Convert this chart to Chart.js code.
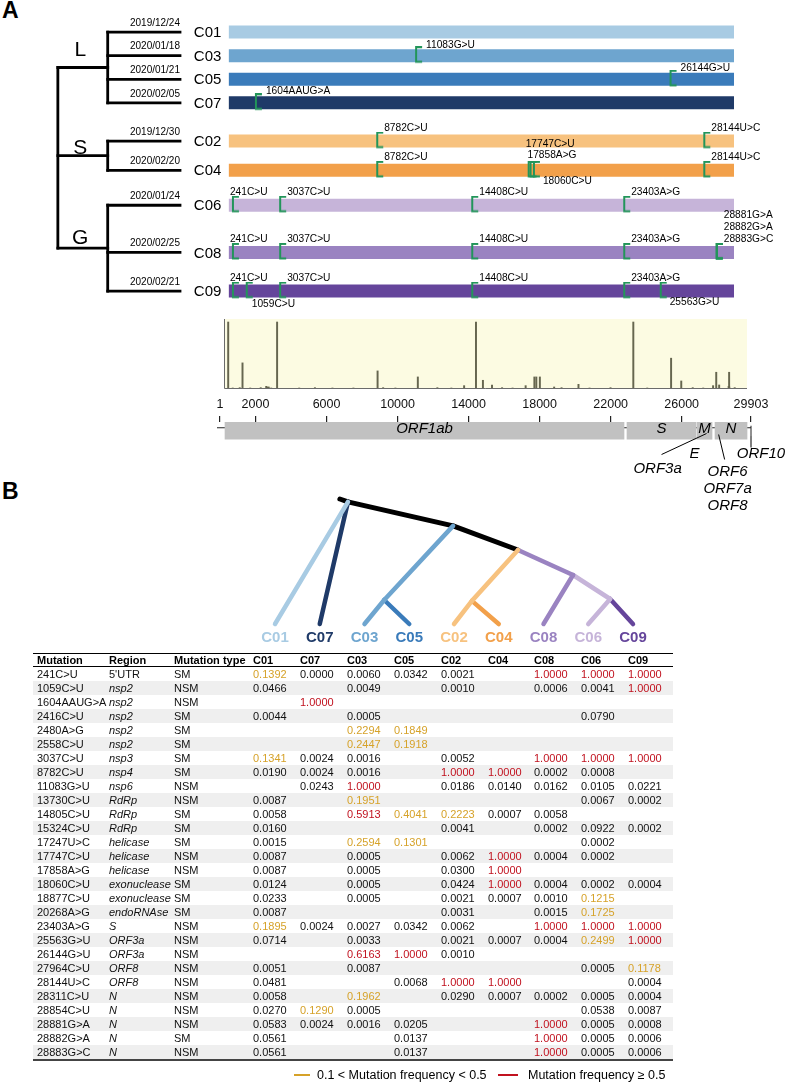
<!DOCTYPE html>
<html lang="en">
<head>
<meta charset="UTF-8">
<title>SARS-CoV-2 clades, mutations and frequencies</title>
<script src="https://cdn.jsdelivr.net/npm/chart.js@4.4.0/dist/chart.umd.min.js"></script>
<style>
  body { margin: 0; background: #fff; font-family: 'Liberation Sans', Arial, Helvetica, sans-serif; color: #000; }
  #page { position: relative; width: 786px; height: 1082px; overflow: hidden; }
  .box { position: absolute; }
  .panel { position: absolute; font-weight: bold; font-size: 23px; line-height: 23px; }
  #tbl { position: absolute; left: 33px; top: 653px; border-collapse: collapse; table-layout: fixed; width: 640px; font-size: 11px; }
  #tbl th, #tbl td { padding: 0 0 0 4px; text-align: left; white-space: nowrap; }
  #tbl th { height: 12px; line-height: 12px; font-weight: bold; border-top: 1.5px solid #000; border-bottom: 1.2px solid #000; }
  #tbl td { height: 14px; line-height: 14px; color: #111; }
  #tbl tbody tr:nth-child(even) td { background: #efefef; }
  #tbl tbody tr:last-child td { border-bottom: 2px solid #444; }
  .lgline { position: absolute; height: 2px; top: 1074px; }
  .lgtext { position: absolute; top: 1068px; font-size: 12.5px; line-height: 14px; }
</style>
</head>
<body>
<div id="page">
  <div class="panel" style="left:2px; top:-1px;">A</div>
  <div class="box" style="left:0; top:0; width:786px; height:318px;"><canvas id="chartA"></canvas></div>
  <div class="box" style="left:224px; top:319px; width:523px; height:70px;"><canvas id="chartFreq"></canvas></div>
  <div class="box" style="left:190px; top:393px; width:596px; height:121px;"><canvas id="chartGenes"></canvas></div>
  <div class="panel" style="left:2px; top:480px;">B</div>
  <div class="box" style="left:230px; top:480px; width:470px; height:182px;"><canvas id="chartB"></canvas></div>
  <table id="tbl"></table>
  <div class="lgline" style="left:294px; width:16px; background:#d6a229;"></div>
  <div class="lgtext" style="left:317px;">0.1 &lt; Mutation frequency &lt; 0.5</div>
  <div class="lgline" style="left:498px; width:20px; background:#c1121f;"></div>
  <div class="lgtext" style="left:528px;">Mutation frequency ≥ 0.5</div>
</div>

<script>
// ---------- data ----------
const genomeLength = 29903;

// panel A: clades in tree order, sampling dates, lineages
const cladeOrder = ['C01', 'C03', 'C05', 'C07', 'C02', 'C04', 'C06', 'C08', 'C09'];
const cladeDates = ['2019/12/24', '2020/01/18', '2020/01/21', '2020/02/05', '2019/12/30',
                    '2020/02/20', '2020/01/24', '2020/02/25', '2020/02/21'];
const lineages = ['L', 'S', 'G'];
const lineageMembers = [['C01', 'C03', 'C05', 'C07'], ['C02', 'C04'], ['C06', 'C08', 'C09']];

// fixed mutations marked on each clade genome
const barMutations = [
  ['C03', '11083G>U'], ['C05', '26144G>U'], ['C07', '1604AAUG>A'],
  ['C02', '8782C>U'], ['C02', '28144U>C'],
  ['C04', '8782C>U'], ['C04', '17747C>U'], ['C04', '17858A>G'], ['C04', '18060C>U'], ['C04', '28144U>C'],
  ['C06', '241C>U'], ['C06', '3037C>U'], ['C06', '14408C>U'], ['C06', '23403A>G'],
  ['C08', '241C>U'], ['C08', '3037C>U'], ['C08', '14408C>U'], ['C08', '23403A>G'],
  ['C08', '28881G>A'], ['C08', '28882G>A'], ['C08', '28883G>C'],
  ['C09', '241C>U'], ['C09', '1059C>U'], ['C09', '3037C>U'], ['C09', '14408C>U'], ['C09', '23403A>G'], ['C09', '25563G>U']
];

// mutation frequency track (relative height)
const spikePositions = [241, 1059, 3037, 8782, 11083, 14408, 14805, 17747, 17858, 18060, 20268,
                        23403, 25563, 26144, 28144, 28881,
                        2416, 2480, 2558, 13730, 15324, 17247, 18877, 27964, 28311, 28854, 28882, 28883,
                        500, 900, 1500, 2100, 2700, 4300, 5200, 6200, 7400, 9100, 9800, 12200, 13000,
                        15900, 16500, 19300, 20900, 22100, 24200, 26800, 27400, 29200];
const spikeHeights = [1.0, 0.39, 1.0, 0.27, 0.18, 1.0, 0.13, 0.18, 0.18, 0.18, 0.07,
                      1.0, 0.46, 0.12, 0.25, 0.25,
                      0.04, 0.03, 0.03, 0.05, 0.06, 0.05, 0.03, 0.05, 0.06, 0.04, 0.03, 0.03,
                      0.015, 0.02, 0.015, 0.02, 0.015, 0.015, 0.02, 0.015, 0.015, 0.02, 0.015, 0.02, 0.015,
                      0.02, 0.015, 0.02, 0.015, 0.02, 0.015, 0.02, 0.015, 0.02];

// genome map (positions as drawn against the axis)
const genomeTicks = [1, 2000, 6000, 10000, 14000, 18000, 22000, 26000, 29903];
const geneNames = ['ORF1ab', 'S', 'M', 'N'];
const geneStart = [283, 22920, 26863, 27877];
const geneEnd = [22752, 26806, 27708, 29679];

// panel B tree: tips left to right, nodes as [tip position, depth]
const tipOrderB = ['C01', 'C07', 'C03', 'C05', 'C02', 'C04', 'C08', 'C06', 'C09'];
const treeNodesB = {
  root: [1.45, 0], n1: [1.63, 0.023], n2: [3.98, 0.215], n3: [5.43, 0.408],
  n4: [6.66, 0.608], n5: [7.49, 0.80], n35: [2.44, 0.808], n24: [4.40, 0.815],
  C01: [0, 1], C07: [1, 1], C03: [2, 1], C05: [3, 1], C02: [4, 1],
  C04: [5, 1], C08: [6, 1], C06: [7, 1], C09: [8, 1]
};
const treeEdgesB = [
  ['root', 'n1', 'trunk'], ['n1', 'n2', 'trunk'], ['n2', 'n3', 'trunk'],
  ['n1', 'C01', 'C01'], ['n1', 'C07', 'C07'],
  ['n2', 'n35', 'C03'], ['n35', 'C03', 'C03'], ['n35', 'C05', 'C05'],
  ['n3', 'n24', 'C02'], ['n24', 'C02', 'C02'], ['n24', 'C04', 'C04'],
  ['n3', 'n4', 'C08'], ['n4', 'C08', 'C08'], ['n4', 'n5', 'C06'],
  ['n5', 'C06', 'C06'], ['n5', 'C09', 'C09']
];

// panel B table
const tableMutations = ['241C>U', '1059C>U', '1604AAUG>A', '2416C>U', '2480A>G', '2558C>U', '3037C>U',
  '8782C>U', '11083G>U', '13730C>U', '14805C>U', '15324C>U', '17247U>C', '17747C>U', '17858A>G',
  '18060C>U', '18877C>U', '20268A>G', '23403A>G', '25563G>U', '26144G>U', '27964C>U', '28144U>C',
  '28311C>U', '28854C>U', '28881G>A', '28882G>A', '28883G>C'];
const tableRegions = ["5'UTR", 'nsp2', 'nsp2', 'nsp2', 'nsp2', 'nsp2', 'nsp3', 'nsp4', 'nsp6', 'RdRp',
  'RdRp', 'RdRp', 'helicase', 'helicase', 'helicase', 'exonuclease', 'exonuclease', 'endoRNAse', 'S',
  'ORF3a', 'ORF3a', 'ORF8', 'ORF8', 'N', 'N', 'N', 'N', 'N'];
const tableTypes = ['SM', 'NSM', 'NSM', 'SM', 'SM', 'SM', 'SM', 'SM', 'NSM', 'NSM', 'SM', 'SM', 'SM',
  'NSM', 'NSM', 'SM', 'SM', 'SM', 'NSM', 'NSM', 'NSM', 'NSM', 'NSM', 'NSM', 'NSM', 'NSM', 'SM', 'NSM'];
const freqColumns = ['C01', 'C07', 'C03', 'C05', 'C02', 'C04', 'C08', 'C06', 'C09'];
const _ = null;
const freqC01 = [0.1392, 0.0466, _, 0.0044, _, _, 0.1341, 0.0190, _, 0.0087, 0.0058, 0.0160, 0.0015, 0.0087,
  0.0087, 0.0124, 0.0233, 0.0087, 0.1895, 0.0714, _, 0.0051, 0.0481, 0.0058, 0.0270, 0.0583, 0.0561, 0.0561];
const freqC07 = [0.0000, _, 1.0000, _, _, _, 0.0024, 0.0024, 0.0243, _, _, _, _, _,
  _, _, _, _, 0.0024, _, _, _, _, _, 0.1290, 0.0024, _, _];
const freqC03 = [0.0060, 0.0049, _, 0.0005, 0.2294, 0.2447, 0.0016, 0.0016, 1.0000, 0.1951, 0.5913, _, 0.2594, 0.0005,
  0.0005, 0.0005, 0.0005, _, 0.0027, 0.0033, 0.6163, 0.0087, _, 0.1962, 0.0005, 0.0016, _, _];
const freqC05 = [0.0342, _, _, _, 0.1849, 0.1918, _, _, _, _, 0.4041, _, 0.1301, _,
  _, _, _, _, 0.0342, _, 1.0000, _, 0.0068, _, _, 0.0205, 0.0137, 0.0137];
const freqC02 = [0.0021, 0.0010, _, _, _, _, 0.0052, 1.0000, 0.0186, _, 0.2223, 0.0041, _, 0.0062,
  0.0300, 0.0424, 0.0021, 0.0031, 0.0062, 0.0021, 0.0010, _, 1.0000, 0.0290, _, _, _, _];
const freqC04 = [_, _, _, _, _, _, _, 1.0000, 0.0140, _, 0.0007, _, _, 1.0000,
  1.0000, 1.0000, 0.0007, _, _, 0.0007, _, _, 1.0000, 0.0007, _, _, _, _];
const freqC08 = [1.0000, 0.0006, _, _, _, _, 1.0000, 0.0002, 0.0162, _, 0.0058, 0.0002, _, 0.0004,
  _, 0.0004, 0.0010, 0.0015, 1.0000, 0.0004, _, _, _, 0.0002, _, 1.0000, 1.0000, 1.0000];
const freqC06 = [1.0000, 0.0041, _, 0.0790, _, _, 1.0000, 0.0008, 0.0105, 0.0067, _, 0.0922, 0.0002, 0.0002,
  _, 0.0002, 0.1215, 0.1725, 1.0000, 0.2499, _, 0.0005, _, 0.0005, 0.0538, 0.0005, 0.0005, 0.0005];
const freqC09 = [1.0000, 1.0000, _, _, _, _, 1.0000, _, 0.0221, 0.0002, _, 0.0002, _, _,
  _, 0.0004, _, _, 1.0000, 1.0000, _, 0.1178, 0.0004, 0.0004, 0.0087, 0.0008, 0.0006, 0.0006];

// ---------- styles & layout ----------
const FONT = "'Liberation Sans', Arial, Helvetica, sans-serif";
const cladeColor = {
  C01: '#a8cbe3', C03: '#6ea5cf', C05: '#3a7bba', C07: '#1f3a68',
  C02: '#f7c27f', C04: '#f2a04a', C06: '#c6b4d9', C08: '#9a83c1', C09: '#65459b',
  trunk: '#000000'
};
const BRACKET_GREEN = '#22955a';
const GOLD = '#d6a229';
const RED = '#c1121f';

// vertical slot of each clade row in panel A (uneven gaps between lineages)
const rowSlot = [0, 1, 2, 3, 4.62, 5.86, 7.34, 9.34, 10.98];
const lineageLabelSlot = [0.75, 4.94, 8.74];
const tipDepth = 2.45;
// genome map: first category row holds the gene boxes, the rest leaves room for callouts
const geneRows = ['genome', '', '', '', '', '', '', ''];

// label offsets (px) relative to bracket, default is above-right
const labelNudge = {
  'C03 11083G>U': { dx: 10, dy: -11 }, 'C05 26144G>U': { dx: 10, dy: -11 }, 'C07 1604AAUG>A': { dx: 10, dy: -12 },
  'C06 241C>U': { dx: -3 }, 'C08 241C>U': { dx: -3 }, 'C09 241C>U': { dx: -3 },
  'C04 17747C>U': { dx: -3, dy: -26 }, 'C04 17858A>G': { dx: -3, dy: -15 }, 'C04 18060C>U': { dx: 9, dy: 11 },
  'C08 28881G>A': { dy: -37 }, 'C08 28882G>A': { dy: -25 },
  'C09 1059C>U': { dx: 5, dy: 13 }, 'C09 25563G>U': { dx: 9, dy: 11 }
};

// min/max so that value v0 lands on pixel px0 and v1 on px1 across a size-px wide area
function fitRange(px0, v0, px1, v1, size) {
  const k = (px1 - px0) / (v1 - v0);
  return { min: v0 - px0 / k, max: v0 + (size - px0) / k };
}
const slotOf = c => rowSlot[cladeOrder.indexOf(c)];
const nodeSlot = m => (slotOf(m[0]) + slotOf(m[m.length - 1])) / 2;

Chart.defaults.font.family = FONT;
Chart.defaults.color = '#000';
Chart.defaults.animation = false;
Chart.defaults.maintainAspectRatio = false;
Chart.defaults.plugins.legend.display = false;
Chart.defaults.plugins.tooltip.enabled = false;

// ---------- panel A: tree + clade genomes ----------
function makeBracket() {
  const c = document.createElement('canvas');
  c.width = 16; c.height = 19;
  const g = c.getContext('2d');
  g.strokeStyle = BRACKET_GREEN;
  g.lineWidth = 2;
  g.beginPath();
  g.moveTo(14, 1); g.lineTo(8, 1); g.lineTo(8, 15.5); g.lineTo(14, 15.5);
  g.stroke();
  return c;
}

const treeSegsA = [];
const lNodes = lineageMembers.map(nodeSlot);
treeSegsA.push([[0, lNodes[0]], [0, lNodes[2]]]);
lineageMembers.forEach((m, i) => {
  treeSegsA.push([[0, lNodes[i]], [1, lNodes[i]]]);
  treeSegsA.push([[1, slotOf(m[0])], [1, slotOf(m[m.length - 1])]]);
  m.forEach(c => treeSegsA.push([[1, slotOf(c)], [tipDepth, slotOf(c)]]));
});

const datasetsA = [];
datasetsA.push({
  data: barMutations.map(([c, l]) => ({ x: parseInt(l, 10), y: slotOf(c) })),
  xAxisID: 'xg', pointStyle: makeBracket(), pointRadius: 8, showLine: false, order: 0, clip: false
});
cladeOrder.forEach((c, i) => datasetsA.push({
  data: [{ x: 1, y: rowSlot[i] }, { x: genomeLength, y: rowSlot[i] }],
  xAxisID: 'xg', showLine: true, borderColor: cladeColor[c], borderWidth: 13,
  borderCapStyle: 'butt', pointRadius: 0, order: 1, clip: false
}));
treeSegsA.forEach(s => datasetsA.push({
  data: s.map(([x, y]) => ({ x, y })),
  xAxisID: 'xt', showLine: true, borderColor: '#000', borderWidth: 2.8,
  borderCapStyle: 'square', pointRadius: 0, order: 2, clip: false
}));

const textA = {
  id: 'textA',
  afterDatasetsDraw(chart) {
    const { ctx, scales: { xt, xg, y } } = chart;
    ctx.save();
    ctx.fillStyle = '#000';
    ctx.textBaseline = 'middle';
    ctx.textAlign = 'center';
    ctx.font = '21px ' + FONT;
    lineages.forEach((l, i) =>
      ctx.fillText(l, xt.getPixelForValue(0.45), y.getPixelForValue(lineageLabelSlot[i])));
    ctx.textAlign = 'right';
    ctx.font = '10px ' + FONT;
    cladeOrder.forEach((c, i) =>
      ctx.fillText(cladeDates[i], xt.getPixelForValue(tipDepth), y.getPixelForValue(rowSlot[i]) - 9));
    ctx.textAlign = 'left';
    ctx.font = '15px ' + FONT;
    cladeOrder.forEach((c, i) =>
      ctx.fillText(c, xg.getPixelForValue(1) - 35, y.getPixelForValue(rowSlot[i]) + 1));
    ctx.font = '10.2px ' + FONT;
    barMutations.forEach(([c, l]) => {
      const p = Object.assign({ dx: 7, dy: -13 }, labelNudge[c + ' ' + l] || {});
      ctx.fillText(l, xg.getPixelForValue(parseInt(l, 10)) + p.dx, y.getPixelForValue(slotOf(c)) + p.dy);
    });
    ctx.restore();
  }
};

new Chart(document.getElementById('chartA'), {
  type: 'scatter',
  data: { datasets: datasetsA },
  options: {
    layout: { padding: 0 },
    scales: {
      xt: Object.assign({ axis: 'x', type: 'linear', display: false }, fitRange(50, 0, 175, tipDepth, 786)),
      xg: Object.assign({ axis: 'x', type: 'linear', display: false }, fitRange(225, 1, 742, genomeLength, 786)),
      y: Object.assign({ type: 'linear', display: false, reverse: true }, fitRange(24.5, 0, 299, rowSlot[8], 318))
    }
  },
  plugins: [textA]
});

// ---------- panel A: frequency track ----------
const freqFrame = {
  id: 'freqFrame',
  beforeDatasetsDraw(chart) {
    const { ctx, chartArea: a } = chart;
    ctx.save();
    ctx.fillStyle = '#fcfbe2';
    ctx.fillRect(a.left, a.top, a.right - a.left, a.bottom - a.top);
    ctx.restore();
  },
  afterDatasetsDraw(chart) {
    const { ctx, chartArea: a } = chart;
    ctx.save();
    ctx.strokeStyle = '#6b6b6b';
    ctx.lineWidth = 1;
    ctx.beginPath();
    ctx.moveTo(a.left + 0.5, a.top); ctx.lineTo(a.left + 0.5, a.bottom - 0.5); ctx.lineTo(a.right, a.bottom - 0.5);
    ctx.stroke();
    ctx.restore();
  }
};

new Chart(document.getElementById('chartFreq'), {
  type: 'bar',
  data: {
    datasets: [{
      data: spikePositions.map((p, i) => ({ x: p, y: spikeHeights[i] })),
      backgroundColor: '#66664f', barThickness: 1.3
    }]
  },
  options: {
    layout: { padding: 0 },
    scales: {
      x: { type: 'linear', display: false, min: 1, max: genomeLength, offset: false },
      y: { type: 'linear', display: false, min: 0, max: 1.045 }
    }
  },
  plugins: [freqFrame]
});

// ---------- panel A: genome map ----------
function geneRowBox(chart) {
  const a = chart.chartArea;
  const h = (a.bottom - a.top) / geneRows.length;
  return { top: a.top, bot: a.top + h, mid: a.top + h / 2 };
}
const geneLabels = {
  id: 'geneLabels',
  beforeDatasetsDraw(chart) {
    const { ctx, scales: { x } } = chart;
    const { mid } = geneRowBox(chart);
    ctx.save();
    ctx.strokeStyle = '#222';
    ctx.lineWidth = 1;
    ctx.beginPath();
    ctx.moveTo(x.getPixelForValue(1) - 3, mid); ctx.lineTo(x.getPixelForValue(genomeLength), mid);
    ctx.moveTo(x.getPixelForValue(genomeLength), mid - 2); ctx.lineTo(x.getPixelForValue(genomeLength), mid + 9);
    ctx.stroke();
    ctx.restore();
  },
  afterDatasetsDraw(chart) {
    const { ctx, scales: { x } } = chart;
    const { mid, bot } = geneRowBox(chart);
    ctx.save();
    ctx.fillStyle = '#000';
    ctx.strokeStyle = '#000';
    ctx.lineWidth = 1;
    ctx.font = 'italic 15px ' + FONT;
    ctx.textAlign = 'center';
    ctx.textBaseline = 'middle';
    geneNames.forEach((g, i) =>
      ctx.fillText(g, (x.getPixelForValue(geneStart[i]) + x.getPixelForValue(geneEnd[i])) / 2, mid + 1));
    // callouts for the small genes
    const a3 = x.getPixelForValue(27400), a6 = x.getPixelForValue(28080), a10 = x.getPixelForValue(genomeLength);
    ctx.beginPath();
    ctx.moveTo(a3, bot); ctx.lineTo(a3 - 45, bot + 21);
    ctx.moveTo(a6, bot + 1); ctx.lineTo(a6 + 6, bot + 26);
    ctx.moveTo(a10, bot + 3); ctx.lineTo(a10, bot + 14);
    ctx.stroke();
    ctx.fillText('ORF3a', a3 - 49, bot + 35);
    ctx.fillText('E', a3 - 12, bot + 20);
    ['ORF6', 'ORF7a', 'ORF8'].forEach((t, i) => ctx.fillText(t, a6 + 9, bot + 38 + 17 * i));
    ctx.fillText('ORF10', a10 + 10, bot + 20);
    ctx.restore();
  }
};

new Chart(document.getElementById('chartGenes'), {
  type: 'bar',
  data: {
    labels: geneRows,
    datasets: [{
      data: geneNames.map((g, i) => ({ x: [geneStart[i], geneEnd[i]], y: 'genome' })),
      backgroundColor: '#c1c1c1', barPercentage: 1, categoryPercentage: 1
    }]
  },
  options: {
    indexAxis: 'y',
    layout: { padding: { left: 30, right: 35, top: 0, bottom: 0 } },
    scales: {
      x: {
        type: 'linear', position: 'top', min: 1, max: genomeLength,
        afterBuildTicks: s => { s.ticks = genomeTicks.map(v => ({ value: v })); },
        ticks: { font: { size: 12.5 }, color: '#111', padding: 4, autoSkip: false, maxRotation: 0,
                 callback: v => String(v) },
        grid: { drawOnChartArea: false, tickLength: 6, color: '#222', lineWidth: 1.2 },
        border: { display: false }
      },
      y: { type: 'category', display: false }
    }
  },
  plugins: [geneLabels]
});

// ---------- panel B: tree ----------
const datasetsB = treeEdgesB.map(([p, c, col]) => ({
  data: [treeNodesB[p], treeNodesB[c]].map(([x, y]) => ({ x, y })),
  showLine: true, borderColor: cladeColor[col], borderWidth: col === 'trunk' ? 5 : 4.5,
  borderCapStyle: 'round', pointRadius: 0, clip: false, order: col === 'trunk' ? 1 : 0
}));

new Chart(document.getElementById('chartB'), {
  type: 'scatter',
  data: { datasets: datasetsB },
  options: {
    layout: { padding: { top: 19, bottom: 10, left: 0, right: 0 } },
    scales: {
      x: Object.assign({
        type: 'linear',
        afterBuildTicks: s => { s.ticks = tipOrderB.map((t, i) => ({ value: i })); },
        ticks: {
          autoSkip: false, maxRotation: 0, padding: 5,
          font: { size: 15, weight: 'bold' },
          color: ctx => cladeColor[tipOrderB[ctx.tick.value]],
          callback: v => tipOrderB[v]
        },
        grid: { display: false, drawTicks: false }, border: { display: false }
      }, fitRange(45, 0, 403, 8, 470)),
      y: { type: 'linear', display: false, reverse: true, min: 0, max: 1 }
    }
  }
});

// ---------- panel B: table ----------
const freqByClade = { C01: freqC01, C07: freqC07, C03: freqC03, C05: freqC05, C02: freqC02,
                      C04: freqC04, C08: freqC08, C06: freqC06, C09: freqC09 };
const colWidths = [72, 65, 79, 47, 47, 47, 47, 47, 46, 47, 47, 49];
function freqColor(v) { return v >= 0.5 ? RED : (v > 0.1 ? GOLD : '#111'); }
const esc = s => s.replace(/>/g, '&gt;');

let html = '<colgroup>' + colWidths.map(w => `<col style="width:${w}px">`).join('') + '</colgroup>';
html += '<thead><tr><th>Mutation</th><th>Region</th><th>Mutation type</th>' +
        freqColumns.map(c => `<th>${c}</th>`).join('') + '</tr></thead><tbody>';
tableMutations.forEach((m, r) => {
  const reg = tableRegions[r];
  html += `<tr><td>${esc(m)}</td><td>${reg === "5'UTR" ? reg : '<i>' + reg + '</i>'}</td><td>${tableTypes[r]}</td>`;
  freqColumns.forEach(c => {
    const v = freqByClade[c][r];
    html += v == null ? '<td></td>' : `<td style="color:${freqColor(v)}">${v.toFixed(4)}</td>`;
  });
  html += '</tr>';
});
html += '</tbody>';
document.getElementById('tbl').innerHTML = html;
</script>
</body>
</html>
